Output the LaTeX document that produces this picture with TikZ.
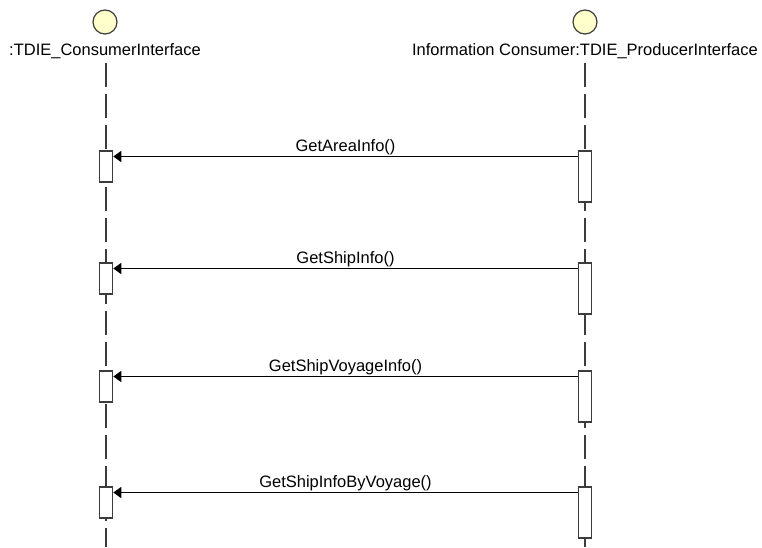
\documentclass[tikz,border=0pt]{standalone}
\usepackage{fontspec}
\setmainfont{Liberation Sans}
\usetikzlibrary{arrows.meta}
\definecolor{headfill}{RGB}{255,255,204}
\definecolor{boxline}{RGB}{60,60,60}
\begin{document}
\begin{tikzpicture}[x=1pt,y=-1pt]

    \tikzset{
      actorhead/.style={
        circle,
        draw=boxline,
        fill=headfill,
        line width=1.2pt,
        minimum size=24pt,
        inner sep=0pt,
      },
      headlabel/.style={
        anchor=base,
        inner sep=0pt,
        font=\fontsize{16.5}{19}\selectfont,
      },
      lifeline/.style={
        draw=boxline,
        line width=1.6pt,
        dash pattern=on 24pt off 7pt,
      },
      activation/.style={
        draw=boxline,
        fill=white,
        line width=1.6pt,
        minimum width=13pt,
        inner sep=0pt,
        anchor=north,
      },
      msg/.style={
        draw=black,
        line width=1.7pt,
        -{Triangle[length=8pt,width=11pt]},
      },
      msglabel/.style={
        anchor=base,
        inner sep=0pt,
        yshift=5pt,
        font=\fontsize{16.5}{19}\selectfont,
      },
    }
    \useasboundingbox (0,0) rectangle (762,547);

    \node[actorhead] (consumerhead) at (105,22) {};
    \node[actorhead] (producerhead) at (585,22) {};
    \node[headlabel] (consumerlabel) at (105,55.5) {:TDIE\_ConsumerInterface};
    \node[headlabel] (producerlabel) at (585,55.5) {Information Consumer:TDIE\_ProducerInterface};

    \coordinate (consumertop) at (106,63);
    \coordinate (consumerend) at (106,547);
    \coordinate (producertop) at (585,63);
    \coordinate (producerend) at (585,547);
	\draw[lifeline] (consumertop) -- (consumerend);
	\draw[lifeline] (producertop) -- (producerend);

    \node[activation, minimum height=31pt] (lact1) at (106,150) {};
    \node[activation, minimum height=31pt] (lact2) at (106,262) {};
    \node[activation, minimum height=31pt] (lact3) at (106,370) {};
    \node[activation, minimum height=31pt] (lact4) at (106,486) {};
    \node[activation, minimum height=51pt] (ract1) at (585,150) {};
    \node[activation, minimum height=51pt] (ract2) at (585,262) {};
    \node[activation, minimum height=51pt] (ract3) at (585,370) {};
    \node[activation, minimum height=51pt] (ract4) at (585,486) {};

	\draw[msg] ([yshift=-6.5pt]ract1.north west) -- node[msglabel] {GetAreaInfo()} ([yshift=-6.5pt]lact1.north east);
	\draw[msg] ([yshift=-6.5pt]ract2.north west) -- node[msglabel] {GetShipInfo()} ([yshift=-6.5pt]lact2.north east);
	\draw[msg] ([yshift=-6.5pt]ract3.north west) -- node[msglabel] {GetShipVoyageInfo()} ([yshift=-6.5pt]lact3.north east);
	\draw[msg] ([yshift=-6.5pt]ract4.north west) -- node[msglabel] {GetShipInfoByVoyage()} ([yshift=-6.5pt]lact4.north east);

\end{tikzpicture}
\end{document}
